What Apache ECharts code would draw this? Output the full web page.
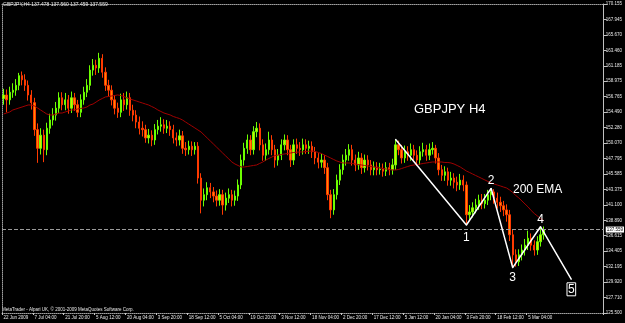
<!DOCTYPE html>
<html><head><meta charset="utf-8">
<script src="https://cdn.jsdelivr.net/npm/echarts@6/dist/echarts.min.js"></script>
<style>html,body{margin:0;padding:0;background:#000;}#c{width:625px;height:323px;}</style>
</head><body><div id="c"></div>
<script>
const dateLabels = ['22 Jun 2009','7 Jul 04:00','21 Jul 20:00','5 Aug 12:00','20 Aug 04:00','3 Sep 20:00','18 Sep 12:00','5 Oct 04:00','19 Oct 20:00','3 Nov 12:00','18 Nov 04:00','2 Dec 20:00','17 Dec 12:00','5 Jan 12:00','20 Jan 04:00','3 Feb 20:00','18 Feb 12:00','5 Mar 04:00'];
const yTickLabels = ['125.500','127.710','129.920','132.195','134.405','136.615','138.890','141.100','143.375','145.585','147.795','150.070','152.280','154.490','156.765','158.975','161.185','163.460','165.670','167.945','170.155'];
const headerText = 'GBPJPY,H4 137.478 137.560 137.459 137.559';
const copyrightText = 'MetaTrader - Alpari UK, \u00a9 2001-2009 MetaQuotes Software Corp.';
const lastPrice = 137.559;
const totalSlots = 195;

const opens = [
156.5,157.0,156.3,157.4,157.7,158.4,159.8,159.2,158.4,157.0,
155.9,152.0,149.3,151.2,149.1,152.2,153.4,154.1,155.1,156.6,
155.6,156.3,155.1,156.6,155.6,154.5,156.3,157.4,158.4,160.6,
161.3,160.9,162.3,160.3,158.4,157.7,156.3,155.1,154.5,156.3,
155.6,156.6,154.8,154.1,153.1,152.2,152.0,150.8,151.2,150.5,
152.0,152.5,152.7,152.2,152.5,152.0,150.8,150.5,151.1,149.3,
149.1,149.6,149.1,149.6,145.0,141.8,142.6,143.6,143.0,142.4,
141.8,142.6,141.1,142.1,142.6,141.8,142.4,144.0,147.6,149.3,
150.5,149.1,151.7,152.2,149.8,148.3,149.1,150.5,149.1,147.6,
148.3,149.8,150.5,149.1,147.6,149.8,149.3,149.1,149.8,149.3,
149.6,148.8,147.9,147.3,147.6,146.5,142.6,140.4,142.6,144.7,
146.2,147.6,148.3,149.1,147.6,146.9,147.9,146.5,147.6,146.9,
146.2,146.6,146.2,146.3,146.0,146.5,146.2,146.9,149.8,149.1,
147.9,148.8,148.3,149.1,148.3,147.6,148.8,149.1,148.3,149.1,
149.3,147.9,146.2,145.4,145.9,144.7,145.0,144.4,144.0,144.7,
144.0,139.7,140.1,140.7,141.1,141.8,141.3,141.8,142.6,143.0,
142.1,141.5,141.0,140.4,139.7,136.8,133.9,132.9,133.9,134.6,
135.3,136.3,135.3,134.6,135.8,136.8];
const closes = [
157.0,156.3,157.4,157.7,158.4,159.8,159.2,158.4,157.0,155.9,
152.0,149.3,151.2,149.1,152.2,153.4,154.1,155.1,156.6,155.6,
156.3,155.1,156.6,155.6,154.5,156.3,157.4,158.4,160.6,161.3,
160.9,162.3,160.3,158.4,157.7,156.3,155.1,154.5,156.3,155.6,
156.6,154.8,154.1,153.1,152.2,152.0,150.8,151.2,150.5,152.0,
152.5,152.7,152.2,152.5,152.0,150.8,150.5,151.1,149.3,149.1,
149.6,149.1,149.6,145.0,141.8,142.6,143.6,143.0,142.4,141.8,
142.6,141.1,142.1,142.6,141.8,142.4,144.0,147.6,149.3,150.5,
149.1,151.7,152.2,149.8,148.3,149.1,150.5,149.1,147.6,148.3,
149.8,150.5,149.1,147.6,149.8,149.3,149.1,149.8,149.3,149.6,
148.8,147.9,147.3,147.6,146.5,142.6,140.4,142.6,144.7,146.2,
147.6,148.3,149.1,147.6,146.9,147.9,146.5,147.6,146.9,146.2,
146.6,146.2,146.3,146.0,146.5,146.2,146.9,149.8,149.1,147.9,
148.8,148.3,149.1,148.3,147.6,148.8,149.1,148.3,149.1,149.3,
147.9,146.2,145.4,145.9,144.7,145.0,144.4,144.0,144.7,144.0,
139.7,140.1,140.7,141.1,141.8,141.3,141.8,142.6,143.0,142.1,
141.5,141.0,140.4,139.7,136.8,133.9,132.9,133.9,134.6,135.3,
136.3,135.3,134.6,135.8,136.8,137.559];
const highs = [
157.9,157.8,158.2,158.7,159.3,160.2,160.4,160.0,159.1,157.7,
156.6,152.9,152.2,152.0,153.0,154.3,155.1,156.0,157.4,157.4,
157.3,157.0,157.5,157.3,156.3,157.1,158.2,159.3,161.3,162.2,
162.1,163.1,162.9,161.0,159.2,158.4,157.0,155.9,157.2,157.3,
157.5,157.3,155.6,154.8,153.9,153.2,152.7,152.1,151.9,152.8,
153.4,153.8,153.5,153.4,153.2,152.7,151.6,152.0,151.8,150.2,
150.4,150.3,150.2,150.2,145.7,143.5,144.4,144.3,143.7,143.2,
143.4,143.3,142.9,143.5,143.3,143.2,144.8,148.4,150.1,151.3,
151.2,152.5,153.1,152.9,150.6,150.0,151.7,151.2,149.8,149.2,
150.6,151.3,151.2,149.8,150.6,150.7,150.2,150.7,150.6,150.4,
150.3,149.5,148.6,148.5,148.3,147.2,143.3,143.4,145.5,147.0,
148.4,149.2,149.9,149.8,148.4,148.8,148.6,148.4,148.3,147.6,
147.4,147.3,147.2,147.1,147.3,147.2,147.8,150.6,150.4,149.8,
149.7,149.6,150.0,149.8,149.0,149.6,150.1,149.8,150.0,150.2,
149.8,148.6,146.9,146.7,146.5,145.9,145.7,145.2,145.6,145.4,
144.5,141.1,141.5,142.0,142.6,142.7,142.7,143.3,143.5,143.4,
142.9,142.3,141.7,141.2,140.4,137.5,134.7,134.7,135.4,136.2,
137.4,137.0,136.0,136.6,137.97,138.0];
const lows = [
155.6,154.5,155.6,156.6,156.9,157.7,158.4,157.6,156.2,154.9,
151.1,147.2,148.4,147.3,148.3,151.4,152.6,153.3,154.4,154.8,
154.8,154.3,154.4,154.7,153.8,153.8,155.6,156.7,157.7,159.8,
159.9,160.2,159.5,157.6,156.8,155.5,154.2,153.7,153.8,154.7,
154.9,154.0,153.2,152.2,151.3,151.0,150.1,150.0,149.6,149.8,
151.3,151.7,151.4,151.5,151.1,150.0,149.6,149.7,148.5,148.2,
148.4,148.2,148.4,144.2,139.9,140.9,141.8,142.1,141.5,140.9,
141.0,139.7,140.3,141.4,140.9,141.0,141.7,143.4,146.8,148.5,
148.3,148.4,150.9,149.0,147.5,147.5,148.4,148.3,146.5,146.8,
147.6,149.0,148.3,146.6,146.9,148.5,148.2,148.4,148.5,148.5,
147.9,147.0,146.4,146.5,145.6,141.8,139.2,139.7,141.9,144.0,
145.5,146.8,147.5,146.8,146.0,146.2,145.6,145.8,146.1,145.4,
145.4,145.4,145.5,145.2,145.3,145.4,145.5,146.2,148.3,147.1,
147.2,147.5,147.5,147.5,146.8,146.9,148.1,147.5,147.6,148.4,
147.1,145.4,144.6,144.6,143.9,143.9,143.5,143.1,143.3,143.1,
138.2,138.8,139.3,139.9,140.4,140.5,140.6,141.1,141.8,141.3,
140.6,140.1,139.5,138.7,135.9,132.05,132.2,132.3,133.1,133.8,
134.6,134.5,133.8,133.9,135.1,136.1];
const ema200 = [
154.26,154.40,154.55,154.84,154.98,155.13,155.27,155.42,155.56,155.56,
155.42,155.13,154.84,154.55,154.26,154.12,154.12,154.26,154.40,154.40,
154.55,154.69,154.84,154.84,154.98,155.06,155.13,155.27,155.56,155.70,
155.99,156.28,156.50,156.72,156.79,156.86,156.93,157.01,156.93,156.79,
156.57,156.43,156.28,156.14,155.99,155.85,155.70,155.56,155.34,155.13,
154.84,154.62,154.40,154.26,154.12,153.90,153.75,153.61,153.39,153.10,
152.81,152.53,152.24,151.95,151.66,151.23,150.79,150.36,149.93,149.49,
149.06,148.62,148.19,147.76,147.32,147.03,146.82,146.60,146.60,146.67,
146.75,146.82,146.89,147.11,147.32,147.61,147.83,148.05,148.26,148.33,
148.41,148.48,148.55,148.62,148.70,148.74,148.77,148.77,148.84,148.88,
148.91,148.84,148.70,148.55,148.33,148.12,147.90,147.68,147.47,147.32,
147.18,147.18,147.18,147.11,147.03,146.96,146.89,146.82,146.75,146.67,
146.60,146.53,146.46,146.38,146.31,146.24,146.17,146.17,146.24,146.38,
146.53,146.67,146.82,146.89,146.96,147.03,147.11,147.18,147.25,147.32,
147.32,147.32,147.32,147.25,147.25,147.18,147.03,146.82,146.60,146.31,
146.02,145.81,145.59,145.37,145.16,144.94,144.72,144.51,144.29,144.14,
144.00,143.86,143.71,143.57,143.28,142.92,142.48,142.12,141.69,141.25,
140.82,140.31,139.88,139.52,139.16,138.87];
const waveIndex = [127, 150, 158, 165, 174, 184];
const wavePrice = [150.6, 138.22, 143.52, 132.05, 137.97, 130.37];
const waveLabels = ['', '1', '2', '3', '4', '5'];

const categories = Array.from({length: totalSlots}, (_, i) => String(i));
const candles = opens.map((o, i) => [o, closes[i], lows[i], highs[i]]);
const yMin = 125.5, yMax = 170.155;
const yStep = (yMax - yMin) / (yTickLabels.length - 1);
const smallFont = 'Liberation Sans';
const txt = '#e8e8e8';

const labelPlace = {
  '1': {position: 'bottom', distance: 6},
  '2': {position: 'top', distance: 1},
  '3': {position: 'bottom', distance: 4},
  '4': {position: 'top', distance: 1},
  '5': {position: 'bottom', distance: 3, borderColor: '#ffffff', borderWidth: 1, padding: [1, 1, 0, 1]}
};
const waveData = waveIndex.map((x, i) => {
  const lab = waveLabels[i];
  const item = {value: [x, wavePrice[i]]};
  if (lab) {
    item.label = Object.assign({show: true, formatter: lab, color: '#ffffff', fontSize: 12, fontFamily: 'Liberation Sans'}, labelPlace[lab]);
  }
  return item;
});
const showDate = (i) => i % 10 === 0 && i / 10 < dateLabels.length;

const chart = echarts.init(document.getElementById('c'), null, {renderer: 'canvas'});
chart.setOption({
  backgroundColor: '#000000',
  animation: false,
  title: {text: headerText, left: 3, top: 2, padding: 0,
    textStyle: {color: txt, fontSize: 5, fontWeight: 'normal', fontFamily: smallFont}},
  grid: {left: 2, right: 19, top: 4, bottom: 10},
  xAxis: [{
    type: 'category', data: categories, boundaryGap: true, position: 'bottom',
    axisLine: {lineStyle: {color: '#a0a0a0', type: 'dotted', width: 1}},
    axisTick: {show: true, length: 2, interval: showDate, lineStyle: {color: '#c8c8c8'}},
    axisLabel: {interval: showDate, formatter: (v) => dateLabels[Number(v) / 10] || '',
      color: txt, fontSize: 4.5, align: 'left', margin: 2, fontFamily: smallFont},
    splitLine: {show: false}
  }, {
    type: 'category', data: categories, boundaryGap: true, position: 'top',
    axisLine: {lineStyle: {color: '#a0a0a0', type: 'dotted', width: 1}},
    axisTick: {show: false}, axisLabel: {show: false}, splitLine: {show: false}
  }],
  yAxis: [{
    type: 'value', position: 'right', min: yMin, max: yMax, interval: yStep,
    axisLine: {show: true, lineStyle: {color: '#c0c0c0'}},
    axisTick: {show: true, length: 3, lineStyle: {color: '#c0c0c0'}},
    axisLabel: {color: txt, fontSize: 4.5, margin: 2, fontFamily: smallFont,
      formatter: (v) => yTickLabels[Math.round((v - yMin) / yStep)] || ''},
    splitLine: {show: false}
  }, {
    type: 'value', position: 'left', min: yMin, max: yMax,
    axisLine: {show: true, lineStyle: {color: '#a0a0a0', type: 'dotted'}},
    axisTick: {show: false}, axisLabel: {show: false}, splitLine: {show: false}
  }],
  graphic: [
    {type: 'text', left: 414, top: 103, style: {text: 'GBPJPY H4', fill: '#ffffff', fontSize: 13, fontFamily: 'Liberation Sans'}},
    {type: 'text', left: 513, top: 184, style: {text: '200 EMA', fill: '#ffffff', fontSize: 12, fontFamily: 'Liberation Sans'}},
    {type: 'text', left: 2, top: 307, style: {text: copyrightText, fill: txt, fontSize: 4.5, fontFamily: smallFont}}
  ],
  series: [{
    name: 'GBPJPY', type: 'candlestick', data: candles, barWidth: 1.8,
    itemStyle: {color: '#dde400', color0: '#ff8a00', borderColor: '#6cff00', borderColor0: '#ff3a00', borderWidth: 1},
    markLine: {
      symbol: 'none', silent: true, animation: false,
      data: [{yAxis: lastPrice}],
      lineStyle: {color: '#9a9a9a', type: 'dashed', width: 1},
      label: {position: 'end', formatter: lastPrice.toFixed(3), backgroundColor: '#ffffff', color: '#000000',
        fontSize: 4.5, padding: [1, 1, 0, 1], distance: 2, fontFamily: smallFont}
    }
  }, {
    name: '200 EMA', type: 'line', data: ema200, symbol: 'none', smooth: false,
    lineStyle: {color: '#a00000', width: 1}, z: 3
  }, {
    name: 'Wave', type: 'line', data: waveData, symbol: 'circle', symbolSize: 1,
    itemStyle: {color: '#ffffff'}, lineStyle: {color: '#ffffff', width: 1.5}, z: 5
  }]
});
</script>
</body></html>
